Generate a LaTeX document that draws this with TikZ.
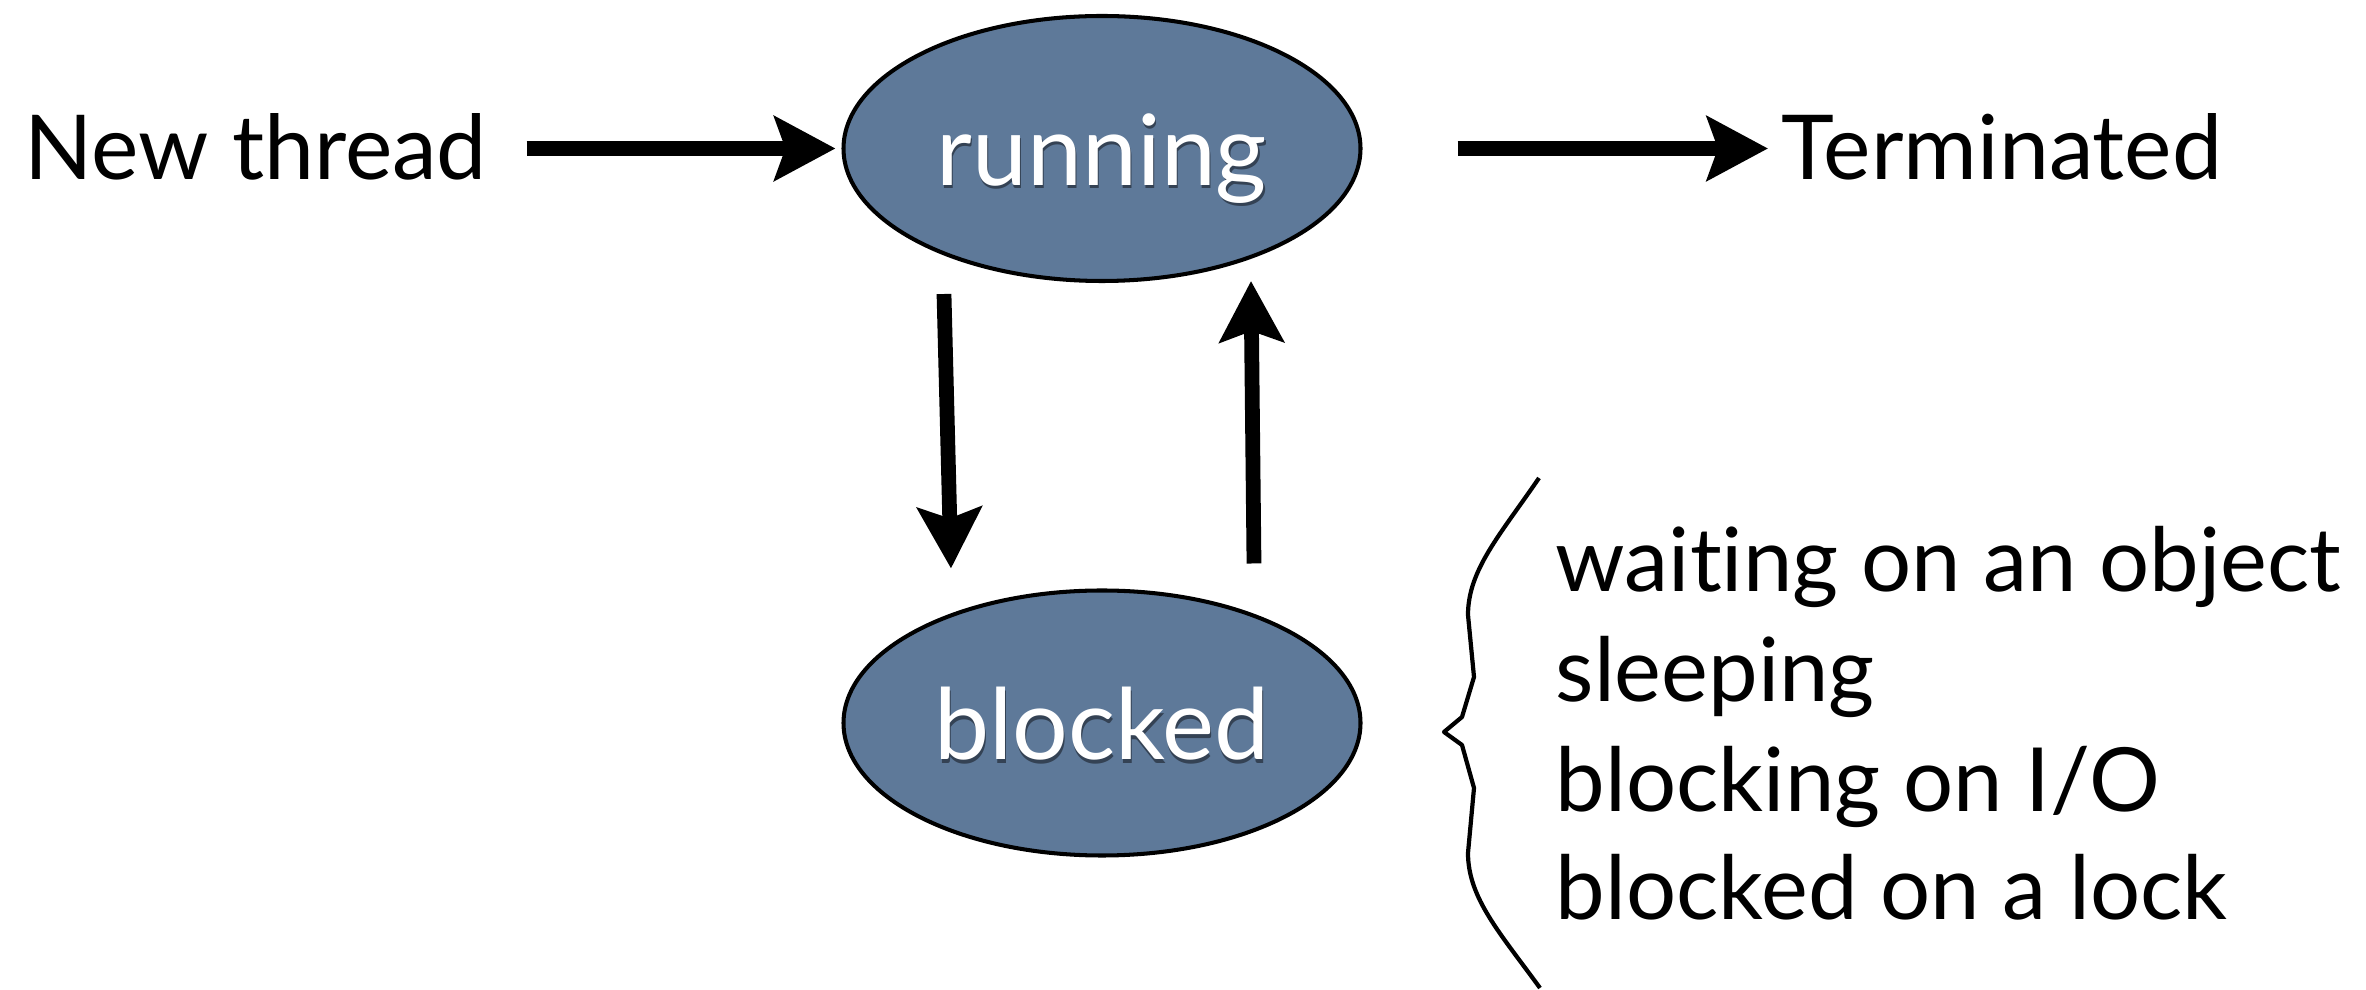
\documentclass[tikz,border=0pt]{standalone}
\usepackage{fontspec}
\setmainfont{Lato}[Ligatures=NoCommon]
\usetikzlibrary{arrows.meta,shapes.geometric,calc}
\definecolor{statefill}{RGB}{94,121,153}
\definecolor{stateshade}{RGB}{52,66,84}
\newcommand\embossed[1]{\rlap{\raisebox{-1pt}{\hspace{0.3pt}\textcolor{stateshade}{#1}}}\textcolor{white}{#1}}
\begin{document}
\begin{tikzpicture}[
  lbl/.style={inner sep=0pt, anchor=base west, font=\fontsize{25.5}{30}\selectfont},
  reason/.style={lbl, font=\fontsize{25.2}{30}\selectfont},
  state/.style={ellipse, draw=black, line width=1.15pt, fill=statefill,
    minimum width=5.17cm, minimum height=2.65cm, inner sep=0pt,
    text height=21pt, text depth=0pt, font=\fontsize{28}{32}\selectfont},
  flow/.style={line width=4.2pt, -{Stealth[length=0.61cm,width=0.64cm,inset=0.11cm]}},
  brace/.style={line width=1.2pt, line join=round},
]
\useasboundingbox (0,0) rectangle (23.66,9.90);

% states
\node[state] (running) at (11.02,8.415) {\embossed{running}};
\node[state] (blocked) at (11.02,2.67) {\embossed{blocked}};

% outer labels
\node[lbl] (newthread) at (0.24,8.10) {New thread};
\node[lbl] (terminated) at (17.81,8.10) {Terminated};

% reasons for blocking
\node[reason] (r1) at (15.55,3.98) {waiting on an object};
\node[reason] (r2) at (15.55,2.88) {sleeping};
\node[reason] (r3) at (15.55,1.78) {blocking on I/O};
\node[reason] (r4) at (15.55,0.70) {blocked on a lock};

% transitions
\draw[flow, shorten <=0.39cm, shorten >=0.06cm]
  (newthread.east |- running.west) -- (running.west);
\draw[flow, shorten <=0.95cm, shorten >=0.13cm]
  (running.east) -- (terminated.west |- running.east);
\draw[flow] ($(running.south)+(-1.58,-0.11)$) -- ($(blocked.north)+(-1.51,0.20)$);
\draw[flow] ($(blocked.north)+(1.52,0.25)$) -- ($(running.south)+(1.49,0.02)$);

% curly brace grouping the reasons
\draw[brace] (15.39,5.12) .. controls (15.00,4.55) and (14.68,4.20) .. (14.68,3.75)
  -- (14.74,3.13) -- (14.62,2.73) -- (14.44,2.58) -- (14.62,2.45) -- (14.74,2.02)
  -- (14.68,1.37) .. controls (14.68,0.92) and (15.00,0.57) .. (15.40,0.02);
\end{tikzpicture}
\end{document}
